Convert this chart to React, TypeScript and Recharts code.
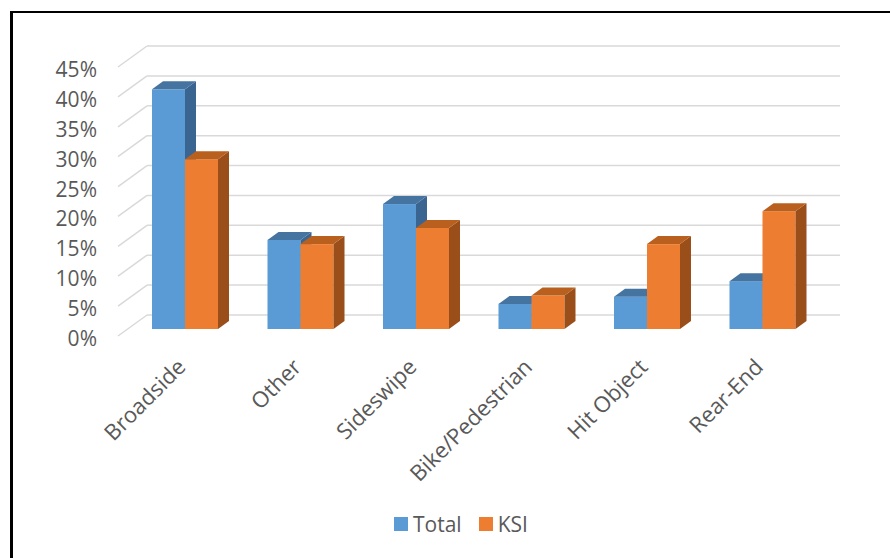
import { BarChart, Bar, XAxis, YAxis, CartesianGrid, Legend } from 'recharts'

const categories = ['Broadside', 'Other', 'Sideswipe', 'Bike/Pedestrian', 'Hit Object', 'Rear-End']
const seriesNames = ['Total', 'KSI']
const totalShare = [0.401, 0.149, 0.209, 0.042, 0.054, 0.08]
const ksiShare = [0.284, 0.142, 0.169, 0.056, 0.142, 0.197]
const yTicks = [0, 0.05, 0.1, 0.15, 0.2, 0.25, 0.3, 0.35, 0.4, 0.45]

const data = categories.map((name, i) => ({ name, total: totalShare[i], ksi: ksiShare[i] }))

const font = '"Open Sans", sans-serif'
const textColor = '#595959'

// depth of the 3d bars
const DX = 11
const DY = 8

const shades: Record<string, { top: string; side: string }> = {
  '#5B9BD5': { top: '#4674a1', side: '#3b6591' },
  '#ED7D31': { top: '#b9601f', side: '#9a4e1a' },
}

const Bar3D = (props: any) => {
  const { x, y, width: w, height: h, fill } = props
  if (h == null || w == null) return null
  const s = shades[fill] || { top: fill, side: fill }
  return (
    <g>
      <rect x={x} y={y} width={w} height={h} fill={fill} />
      <polygon
        points={`${x + w},${y} ${x + w + DX},${y - DY} ${x + w + DX},${y + h - DY} ${x + w},${y + h}`}
        fill={s.side}
      />
      <polygon points={`${x},${y} ${x + DX},${y - DY} ${x + w + DX},${y - DY} ${x + w},${y}`} fill={s.top} />
    </g>
  )
}

// back wall line plus the little diagonal on the left side wall
const GridLine3D = (props: any) => {
  const { x1, y1, x2, index } = props
  return (
    <g key={`g-${index}`}>
      <line x1={x1 - 9} y1={y1 + 7} x2={x1 + 20} y2={y1 - 14} stroke="#d9d9d9" strokeWidth={1.5} />
      <line x1={x1 + 20} y1={y1 - 14} x2={x2 + 20} y2={y1 - 14} stroke="#d9d9d9" strokeWidth={1.5} />
    </g>
  )
}

const YTick = ({ y, payload }: any) => (
  <text x={97} y={y + 9} textAnchor="end" dominantBaseline="central" fill={textColor} fontSize={21} fontFamily={font}>
    {Math.round(payload.value * 100)}%
  </text>
)

const XTick = ({ x, payload }: any) => {
  const tx = x - 4
  const ty = 362
  return (
    <text
      x={tx}
      y={ty}
      transform={`rotate(-45, ${tx}, ${ty})`}
      textAnchor="end"
      dominantBaseline="central"
      fill={textColor}
      fontSize={22}
      fontFamily={font}
    >
      {payload.value}
    </text>
  )
}

const LegendContent = ({ payload }: any) => {
  const items = [...(payload || [])].sort((a: any, b: any) => seriesNames.indexOf(a.value) - seriesNames.indexOf(b.value))
  return (
    <div style={{ display: 'flex', alignItems: 'center', fontFamily: font, fontSize: 21, color: textColor }}>
      {items.map((p: any) => (
        <div key={p.value} style={{ display: 'flex', alignItems: 'center', marginRight: 17 }}>
          <span style={{ width: 14, height: 14, background: p.color, marginRight: 5, display: 'inline-block' }} />
          <span>{p.value}</span>
        </div>
      ))}
    </div>
  )
}

export default function App() {
  return (
    <div style={{ position: 'absolute', left: 0, top: 0, width: 890, height: 558, overflow: 'hidden', background: '#fff' }}>
      <div
        style={{
          position: 'absolute',
          left: 10,
          top: 11,
          width: 950,
          height: 650,
          borderLeft: '3px solid #000',
          borderTop: '2px solid #000',
        }}
      />
      <div style={{ position: 'absolute', left: 0, top: 0 }}>
        <BarChart
          width={890}
          height={558}
          data={data}
          margin={{ top: 60, right: 70, left: 67, bottom: 29 }}
          barGap={0}
          barSize={33}
        >
          <CartesianGrid vertical={false} horizontal={GridLine3D} />
          <XAxis dataKey="name" axisLine={false} tickLine={false} height={200} tick={XTick} interval={0} />
          <YAxis
            domain={[0, 0.45]}
            ticks={yTicks}
            axisLine={false}
            tickLine={false}
            width={60}
            tick={YTick}
            interval={0}
          />
          <Legend
            layout="horizontal"
            verticalAlign="middle"
            align="center"
            content={LegendContent}
            wrapperStyle={{ top: 510, left: 394, width: 300 }}
          />
          <Bar dataKey="total" name="Total" fill="#5B9BD5" shape={Bar3D} isAnimationActive={false} />
          <Bar dataKey="ksi" name="KSI" fill="#ED7D31" shape={Bar3D} isAnimationActive={false} />
        </BarChart>
      </div>
    </div>
  )
}
